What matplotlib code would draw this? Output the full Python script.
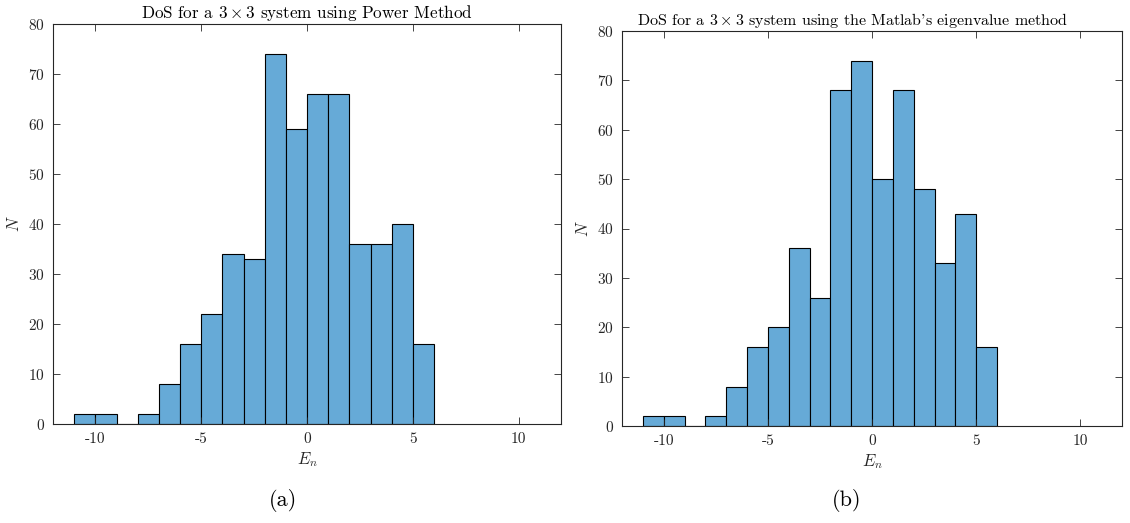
import numpy as np
import matplotlib
matplotlib.use("Agg")
import matplotlib.pyplot as plt

# bin edges shared by both histograms (width 1)
edges = np.arange(-11, 7)

# counts per bin, power method
counts_power = [2, 2, 0, 2, 8, 16, 22, 34, 33, 74, 59, 66, 66, 36, 36, 40, 16]

# counts per bin, built-in eigenvalue solver
counts_eig = [2, 2, 0, 2, 8, 16, 20, 36, 26, 68, 74, 50, 68, 48, 33, 43, 16]

titles = [
    r"DoS for a $3\times3$ system using Power Method",
    r"DoS for a $3\times3$ system using the Matlab's eigenvalue method",
]
captions = ["(a)", "(b)"]

xticks = [-10, -5, 0, 5, 10]
xtick_labels = ["-10", "-5", "0", "5", "10"]
yticks = [0, 10, 20, 30, 40, 50, 60, 70, 80]

plt.rcParams["font.family"] = "serif"
plt.rcParams["font.serif"] = ["cmr10"]
plt.rcParams["mathtext.fontset"] = "cm"
plt.rcParams["axes.formatter.use_mathtext"] = True

bar_color = (0.4, 0.668, 0.845)
axis_gray = (0.15, 0.15, 0.15)

fig = plt.figure(figsize=(11.3, 5.23), dpi=100)

boxes = [
    [53 / 1130, 99 / 523, 508 / 1130, 400 / 523],
    [622 / 1130, 97 / 523, 500 / 1130, 395 / 523],
]
caption_x = [283 / 1130, 847 / 1130]
title_sizes = [12.3, 11.5]
title_x = [0.5, 0.462]

for i, counts in enumerate([counts_power, counts_eig]):
    ax = fig.add_axes(boxes[i])
    ax.bar(edges[:-1], counts, width=np.diff(edges), align="edge",
           color=bar_color, edgecolor="black", linewidth=0.8)
    ax.set_xlim(-12, 12)
    ax.set_ylim(0, 80)
    ax.set_xticks(xticks)
    ax.set_xticklabels(xtick_labels)
    ax.set_yticks(yticks)
    ax.tick_params(direction="in", top=True, right=True, length=5,
                   width=0.6, colors=axis_gray, labelsize=11, pad=6)
    for sp in ax.spines.values():
        sp.set_color(axis_gray)
        sp.set_linewidth(0.8)
    ax.set_title(titles[i], fontsize=title_sizes[i], pad=4, x=title_x[i])
    ax.set_xlabel(r"$E_n$", fontsize=12, color=axis_gray, labelpad=3)
    ax.set_ylabel(r"$N$", fontsize=12, color=axis_gray, labelpad=4)
    fig.text(caption_x[i], 1 - 500 / 523, captions[i], ha="center",
             va="center", fontsize=16)

fig.savefig("out.png", dpi=100)
